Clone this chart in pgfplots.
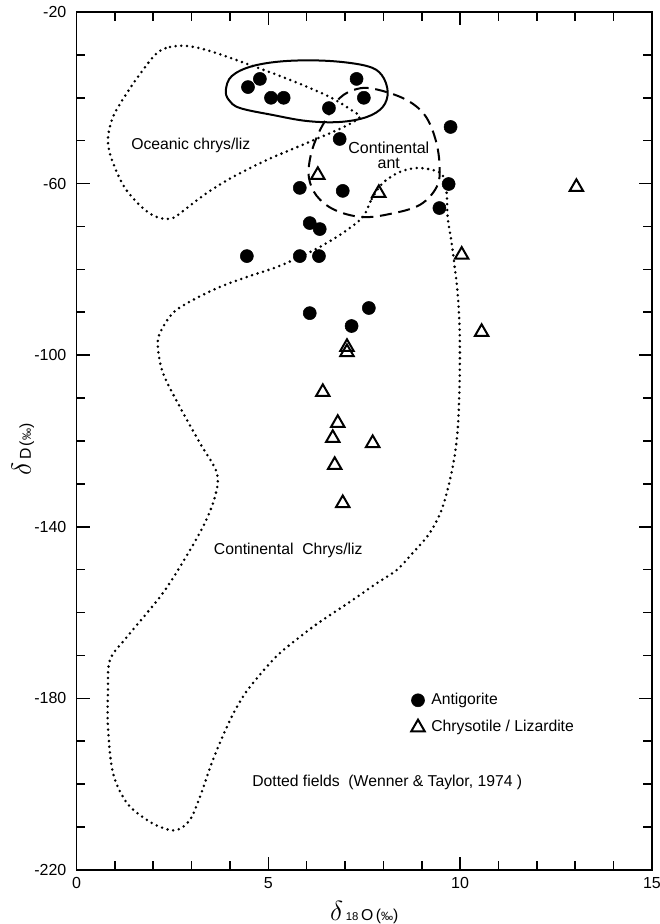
\documentclass[border=0pt]{standalone}
\usepackage{fontspec}
\setmainfont{Liberation Sans}
\usepackage{pgfplots}
\pgfplotsset{compat=1.18}
\begin{document}
\fontsize{11.8}{13}\selectfont
\begin{tikzpicture}
\begin{axis}[
 scale only axis, width=431.6pt, height=643.5pt,
 xmin=0, xmax=15, ymin=-220, ymax=-20,
 xtick={0,5,10,15}, ytick={-220,-180,-140,-100,-60,-20},
 minor x tick num=4, minor y tick num=3,
 xtick pos=both, ytick pos=both, xticklabel pos=lower, yticklabel pos=left,
 tick align=inside,
 major tick length=10pt, minor tick length=6.5pt,
 axis line style={line width=1.3pt},
 every tick/.style={black, line width=1.2pt},
 /pgf/number format/assume math mode=true,
 ticklabel style={font=\fontsize{12}{13}\selectfont},
 yticklabel style={xshift=-3.5pt},
 xticklabel style={yshift=-1.5pt},
 xlabel={{\fontsize{21}{21}\selectfont$\delta$}\,{\fontsize{8.5}{9}\selectfont 18}\,O\,({\fontsize{9}{9}\selectfont ‰})},
 ylabel={{\fontsize{21}{21}\selectfont$\delta$}\,D\,({\fontsize{9}{9}\selectfont ‰})},
 xlabel style={at={(axis description cs:0.5,-0.049)}, anchor=center},
 ylabel style={at={(axis description cs:-0.093,0.49)}, anchor=center},
 legend style={draw=none, fill=none, at={(axis cs:8.72,-183.6)}, anchor=west,
   font=\fontsize{11.8}{13}\selectfont, row sep=6pt, inner sep=0pt,
   /tikz/every odd column/.append style={column sep=3pt}},
 legend cell align=left,
 legend image code/.code={\draw[#1] plot coordinates {(0.15cm,0cm)};},
 dotfield/.style={black, line width=2.1pt, line cap=round, dash pattern=on 0pt off 4.3pt},
]
% Oceanic chrys/liz dotted field
\addplot[dotfield, smooth cycle, tension=0.55, forget plot] coordinates {
(2.096,-29.56) (2.435,-28.16) (2.878,-27.93) (3.477,-29.09) (4.596,-32.59)
(5.638,-36.08) (6.602,-39.81) (7.201,-43.08) (7.383,-44.48) (7.122,-46.11)
(6.680,-47.97) (5.820,-51.24) (4.961,-54.50) (4.076,-58.46) (3.398,-62.19)
(2.878,-65.69) (2.513,-68.02) (2.174,-68.02) (1.784,-66.15) (1.263,-61.03)
(0.924,-54.50) (0.820,-49.84) (0.951,-44.48) (1.315,-38.88) (1.732,-33.52)
};
% Continental chrys/liz dotted field
\addplot[dotfield, smooth cycle, tension=0.55, forget plot] coordinates {
(7.461,-67.79) (7.695,-63.59) (7.982,-59.86) (8.424,-57.30) (8.867,-56.36)
(9.284,-56.83) (9.544,-58.00) (9.648,-62.19) (9.674,-67.79) (9.779,-73.85)
(9.857,-79.44) (9.935,-85.50) (9.987,-94.13) (9.987,-105.78) (9.935,-117.44)
(9.805,-126.06) (9.544,-135.38) (9.206,-141.45) (8.763,-146.11) (8.346,-150.07)
(7.799,-153.33) (7.122,-157.53) (6.341,-162.19) (5.820,-165.69) (5.195,-170.35)
(4.518,-177.34) (4.180,-182.00) (3.919,-186.66) (3.555,-194.36) (3.216,-202.98)
(2.956,-208.34) (2.617,-210.68) (2.253,-210.21) (1.836,-208.34) (1.315,-204.38)
(0.951,-197.39) (0.820,-186.66) (0.820,-178.74) (0.872,-171.05) (1.315,-165.69)
(1.836,-160.09) (2.253,-155.43) (2.695,-149.37) (3.294,-140.05) (3.607,-133.05)
(3.659,-127.46) (3.216,-120.47) (2.695,-112.07) (2.253,-104.15) (2.122,-98.09)
(2.174,-94.83) (2.513,-90.16) (3.034,-87.13) (3.737,-84.10) (4.440,-81.77)
(5.221,-79.44) (5.820,-77.11) (6.341,-74.78) (6.940,-71.52)
};
% Solid loop (oceanic antigorite)
\addplot[black, line width=1.5pt, smooth cycle, tension=0.6, forget plot] coordinates {
(3.893,-38.18) (4.049,-34.92) (4.596,-32.59) (5.482,-31.42) (6.602,-31.42)
(7.565,-32.59) (7.956,-34.69) (8.112,-38.65) (7.982,-42.14) (7.565,-44.48)
(6.862,-45.64) (6.003,-45.41) (5.117,-44.01) (4.258,-42.38) (3.971,-40.51)
};
% Dashed loop (continental antigorite)
\addplot[black, line width=1.5pt, dash pattern=on 9pt off 5pt, smooth cycle, tension=0.6, forget plot] coordinates {
(6.862,-40.05) (7.305,-37.95) (7.773,-37.95) (8.555,-40.28) (9.076,-44.01)
(9.362,-49.84) (9.466,-56.13) (9.388,-60.79) (8.945,-64.99) (8.164,-67.09)
(7.435,-67.79) (6.732,-66.15) (6.263,-62.89) (6.055,-58.46) (6.107,-53.33)
(6.289,-48.67) (6.523,-44.71)
};
% Antigorite
\addplot[only marks, mark=*, mark size=4.9pt, black, fill=black] coordinates {
(4.47,-37.5) (4.78,-35.6) (5.07,-40.0) (5.40,-40.0) (7.30,-35.6) (7.49,-40.0)
(6.58,-42.4) (6.86,-49.6) (9.75,-46.8) (5.82,-61.0) (6.94,-61.7) (9.70,-60.1)
(9.46,-65.7) (6.08,-69.2) (6.34,-70.6) (4.44,-76.9) (5.82,-76.9) (6.32,-76.9)
(6.08,-90.2) (7.62,-89.0) (7.17,-93.2)
};
\addlegendentry{Antigorite}
% Chrysotile / Lizardite
\addplot[only marks, mark=triangle, mark size=5.8pt, black, mark options={line width=1.5pt, fill=white}] coordinates {
(6.29,-58.0) (7.88,-62.2) (13.03,-60.8) (10.04,-76.6) (10.56,-94.6)
(7.05,-98.1) (7.05,-99.3) (6.42,-108.6) (6.81,-115.8) (6.68,-119.3)
(7.72,-120.5) (6.73,-125.6) (6.94,-134.5)
};
\addlegendentry{Chrysotile / Lizardite}
\node at (axis cs:2.98,-51.0) {Oceanic chrys/liz};
\node[align=center, font=\fontsize{12}{11}\selectfont] at (axis cs:8.14,-53.45) {Continental\\ant};
\node at (axis cs:5.52,-145.4) {Continental\ \ Chrys/liz};
\node at (axis cs:8.10,-199.7) {Dotted fields\ \ (Wenner \& Taylor, 1974 )};
\end{axis}
\pgfresetboundingbox
\path[use as bounding box] ([xshift=-57.375pt,yshift=-40.5pt]current axis.south west) rectangle ([xshift=6pt,yshift=9pt]current axis.north east);
\end{tikzpicture}
\end{document}
